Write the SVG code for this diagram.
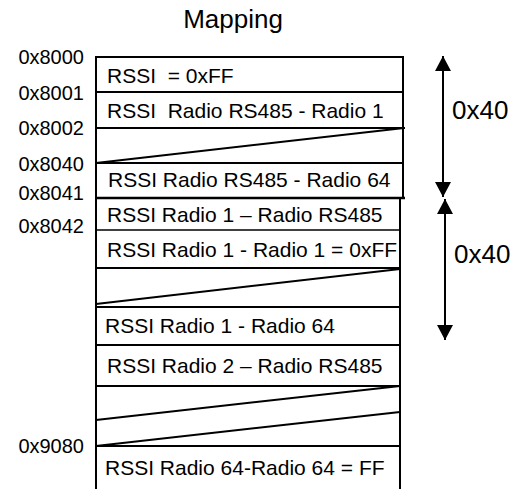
<svg xmlns="http://www.w3.org/2000/svg" width="527" height="489" viewBox="0 0 527 489">
<style>
text{font-family:"Liberation Sans",Arial,sans-serif;fill:#000}
.lbl{font-size:20px;text-anchor:end}
.cell{font-size:21px}
.big{font-size:26px}
.ln{stroke:#000;stroke-width:2;fill:none}
.thin{stroke:#000;stroke-width:1.3;fill:none}
</style>
<defs>
<marker id="ah" markerWidth="16" markerHeight="16" viewBox="0 0 16 16" refX="15" refY="8" orient="auto" markerUnits="userSpaceOnUse">
<path d="M0,0 L15,8 L0,16 Z" fill="#000"/>
</marker>
</defs>
<rect width="527" height="489" fill="#fff"/>
<text class="big" x="233" y="28" text-anchor="middle">Mapping</text>
<g id="addresses">
<text class="lbl" x="84" y="64">0x8000</text>
<text class="lbl" x="84" y="100">0x8001</text>
<text class="lbl" x="84" y="135">0x8002</text>
<text class="lbl" x="84" y="171">0x8040</text>
<text class="lbl" x="84" y="200">0x8041</text>
<text class="lbl" x="84" y="233">0x8042</text>
<text class="lbl" x="84" y="453">0x9080</text>
</g>
<g id="table">
<path class="ln" d="M96,56 V489"/>
<path class="ln" d="M403,56 V199"/>
<path class="ln" d="M400,199 V489"/>
<path class="ln" d="M95,57 H404"/>
<path class="ln" d="M96,92 H403"/>
<path class="ln" d="M96,128 H405"/>
<path class="ln" d="M96,163 H404"/>
<path class="ln" d="M96,198 H405" style="stroke-width:2.5"/>
<path class="thin" d="M96,230 H400"/>
<path class="ln" d="M96,268 H400"/>
<path class="ln" d="M96,307 H400"/>
<path class="ln" d="M96,345 H400"/>
<path class="ln" d="M96,386 H400"/>
<path class="ln" d="M96,446 H400"/>
<path class="ln" d="M96,163 L404,128"/>
<path class="ln" d="M96,304 L400,269"/>
<path class="ln" d="M96,420 L400,386"/>
<path class="ln" d="M96,446 L400,412"/>
</g>
<g id="cells">
<text class="cell" x="107" y="83" xml:space="preserve">RSSI  = 0xFF</text>
<text class="cell" x="107" y="118" xml:space="preserve">RSSI  Radio RS485 - Radio 1</text>
<text class="cell" x="108" y="187">RSSI Radio RS485 - Radio 64</text>
<text class="cell" x="107" y="222">RSSI Radio 1 – Radio RS485</text>
<text class="cell" x="107" y="257">RSSI Radio 1 - Radio 1 = 0xFF</text>
<text class="cell" x="105" y="333">RSSI Radio 1 - Radio 64</text>
<text class="cell" x="107" y="373">RSSI Radio 2 – Radio RS485</text>
<text class="cell" x="105" y="475">RSSI Radio 64-Radio 64 = FF</text>
</g>
<g id="connectors">
<path class="ln" d="M443,126 L443,56" marker-end="url(#ah)"/>
<path class="ln" d="M443,126 L443,197" marker-end="url(#ah)"/>
<path class="ln" d="M445,270 L445,199" marker-end="url(#ah)"/>
<path class="ln" d="M445,270 L445,340" marker-end="url(#ah)"/>
</g>
<text class="big" x="452" y="119">0x40</text>
<text class="big" x="454" y="263">0x40</text>
</svg>
